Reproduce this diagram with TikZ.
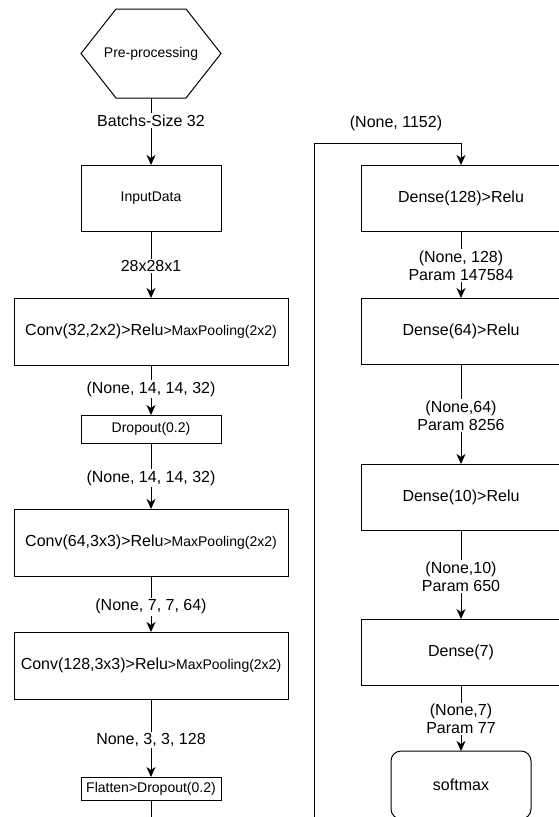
\documentclass[tikz,border=0pt]{standalone}
\usepackage{fontspec}
\setmainfont{Liberation Sans}
\usetikzlibrary{positioning,arrows.meta}
\newcommand{\smalltxt}[1]{{\fontsize{14}{16}\selectfont #1}}

\begin{document}
\begin{tikzpicture}[x=1pt,y=-1pt,node distance=67pt,line width=1pt,
    >={Stealth[length=10pt,width=9pt,inset=3pt]}]
    \tikzset{layer/.style={draw,rectangle,minimum width=140pt,minimum height=66pt,
        inner sep=2pt,outer sep=0pt,font=\fontsize{16}{18}\selectfont},
      wide/.style={layer,minimum width=274pt,minimum height=67pt},
      thin/.style={layer,minimum height=28pt,font=\fontsize{14}{16}\selectfont},
      dense/.style={layer,minimum width=200pt},
      small/.style={font=\fontsize{14}{16}\selectfont},
      lbl/.style={fill=white,inner sep=1.5pt,align=center,font=\fontsize{16}{18}\selectfont}}
    \useasboundingbox (0,0) rectangle (558,817);
    % left column
    \node[minimum width=140pt,minimum height=89pt,outer sep=0pt,small] (pre) at (151,53.5) {Pre-processing};
    \draw (pre.west) -- ([xshift=35pt]pre.north west) -- ([xshift=-35pt]pre.north east)
      -- (pre.east) -- ([xshift=-35pt]pre.south east) -- ([xshift=35pt]pre.south west) -- cycle;
    \node[layer,small] (input) [below=of pre] {InputData};
    \node[wide] (conv1) [below=of input] {Conv(32,2x2)>Relu\smalltxt{>MaxPooling(2x2)}};
    \node[thin] (drop1) [below=50pt of conv1] {Dropout(0.2)};
    \node[wide] (conv2) [below=66pt of drop1] {Conv(64,3x3)>Relu\smalltxt{>MaxPooling(2x2)}};
    \node[wide] (conv3) [below=56pt of conv2] {Conv(128,3x3)>Relu\smalltxt{>MaxPooling(2x2)}};
    \node[thin,minimum height=23pt] (flat) [below=78pt of conv3] {Flatten>Dropout(0.2)};
    % right column
    \node[dense] (d128) [right=140pt of input] {Dense(128)>Relu};
    \node[dense] (d64) [below=of d128] {Dense(64)>Relu};
    \node[dense] (d10) [below=100pt of d64] {Dense(10)>Relu};
    \node[dense] (d7) [below=89pt of d10] {Dense(7)};
    \node[layer,rounded corners=10pt,minimum height=68pt] (soft) [below=66pt of d7] {softmax};
    \coordinate[below=31pt of flat] (low);
    \coordinate (up) at (314,143);
    \node[lbl] (flatout) at (396,123) {(None, 1152)};
    % connectors
    \draw[->] (pre) -- node[lbl,pos=0.34] {Batchs-Size 32} (input);
    \draw[->] (input) -- node[lbl,pos=0.52] {28x28x1} (conv1);
    \draw[->] (conv1) -- node[lbl,pos=0.48] {(None, 14, 14, 32)} (drop1);
    \draw[->] (drop1) -- node[lbl,pos=0.53] {(None, 14, 14, 32)} (conv2);
    \draw[->] (conv2) -- node[lbl,pos=0.55] {(None, 7, 7, 64)} (conv3);
    \draw[->] (conv3) -- node[lbl,pos=0.53] {None, 3, 3, 128} (flat);
    \draw[->] (flat) -- (low) -| (up) -| (d128);
    \draw[->] (d128) -- node[lbl,pos=0.52] {(None, 128)\\Param 147584} (d64);
    \draw[->] (d64) -- node[lbl,pos=0.515] {(None,64)\\Param 8256} (d10);
    \draw[->] (d10) -- node[lbl,pos=0.52] {(None,10)\\Param 650} (d7);
    \draw[->] (d7) -- node[lbl,pos=0.515] {(None,7)\\Param 77} (soft);
  \end{tikzpicture}
\end{document}
